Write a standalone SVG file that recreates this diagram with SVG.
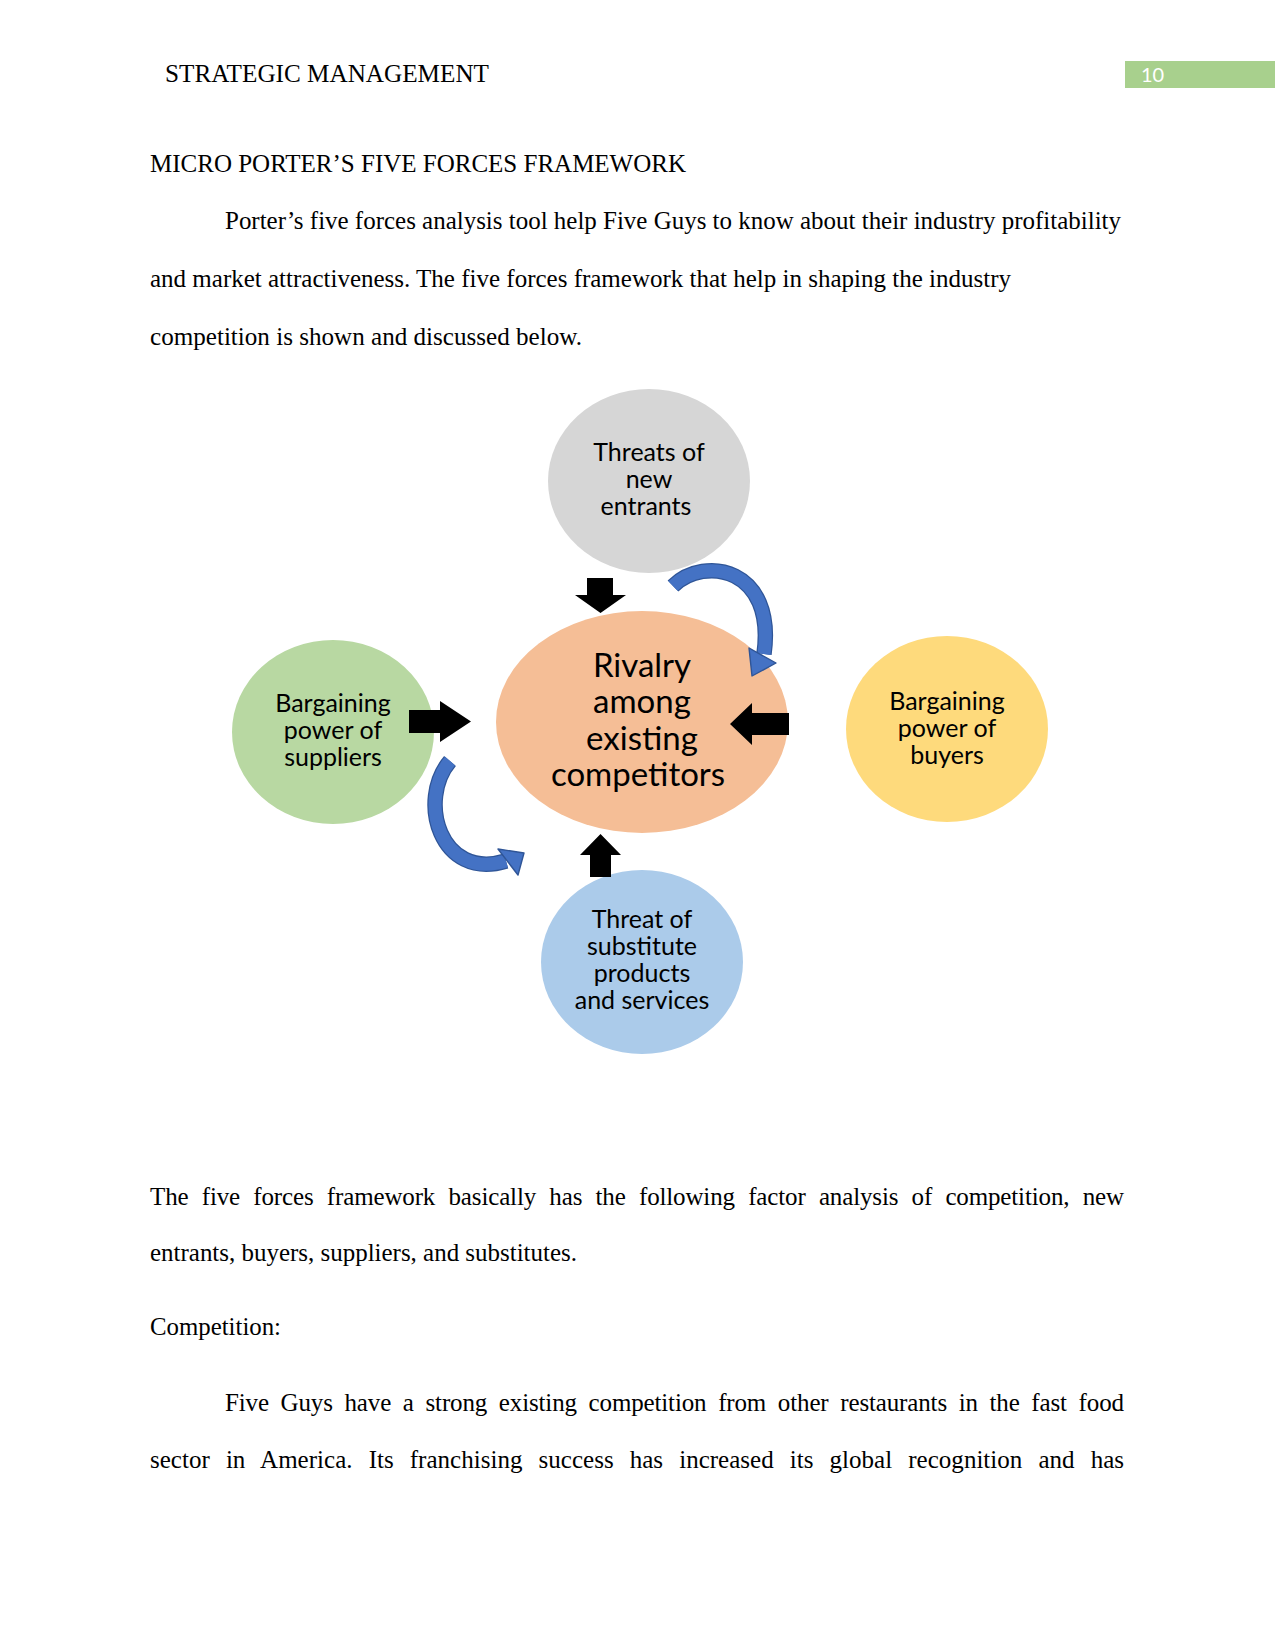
<svg xmlns="http://www.w3.org/2000/svg" width="1275" height="1650" viewBox="0 0 1275 1650">
<style>
.body{font-family:"Liberation Serif","Times New Roman",serif;font-size:25px;fill:#000}
.lbl{font-family:Lato,"Open Sans",sans-serif;font-size:25px;fill:#000;text-anchor:middle}
.big{font-family:Lato,"Open Sans",sans-serif;font-size:33px;fill:#000;text-anchor:middle}
.blk{fill:#000}
.cbody{fill:none;stroke:#4472C4;stroke-width:13}
.cedge{fill:none;stroke:#2F5597;stroke-width:15.5}
.chead{fill:#4472C4;stroke:#2F5597;stroke-width:1.4;stroke-linejoin:round}
</style>
<rect width="1275" height="1650" fill="#fff"/>
<g id="header">
<text class="body" x="165" y="82" textLength="324" lengthAdjust="spacingAndGlyphs">STRATEGIC MANAGEMENT</text>
<rect x="1125" y="61" width="150" height="27" fill="#A8D08D"/>
<text x="1141" y="82" font-family="Lato,sans-serif" font-size="20" fill="#fff">10</text>
</g>
<g id="text-top">
<text class="body" x="150" y="172" textLength="536" lengthAdjust="spacingAndGlyphs">MICRO PORTER’S FIVE FORCES FRAMEWORK</text>
<text class="body" x="225" y="229" textLength="896" lengthAdjust="spacingAndGlyphs">Porter’s five forces analysis tool help Five Guys to know about their industry profitability</text>
<text class="body" x="150" y="287" textLength="861" lengthAdjust="spacingAndGlyphs">and market attractiveness. The five forces framework that help in shaping the industry</text>
<text class="body" x="150" y="345" textLength="432" lengthAdjust="spacingAndGlyphs">competition is shown and discussed below.</text>
</g>
<g id="node-new-entrants">
<ellipse cx="649" cy="481" rx="101" ry="92" fill="#D6D6D6"/>
<text class="lbl" x="649" y="461">Threats of</text>
<text class="lbl" x="649" y="488">new</text>
<text class="lbl" x="646" y="515">entrants</text>
</g>
<g id="node-rivalry">
<ellipse cx="642" cy="722" rx="146" ry="111" fill="#F5BE96"/>
<text class="big" x="642" y="677">Rivalry</text>
<text class="big" x="642" y="713">among</text>
<text class="big" x="642" y="750">existing</text>
<text class="big" x="638" y="786">competitors</text>
</g>
<g id="node-suppliers">
<ellipse cx="333" cy="732" rx="101" ry="92" fill="#B8D8A2"/>
<text class="lbl" x="333" y="712">Bargaining</text>
<text class="lbl" x="333" y="739">power of</text>
<text class="lbl" x="333" y="766">suppliers</text>
</g>
<g id="node-buyers">
<ellipse cx="947" cy="729" rx="101" ry="93" fill="#FEDA7C"/>
<text class="lbl" x="947" y="710">Bargaining</text>
<text class="lbl" x="947" y="737">power of</text>
<text class="lbl" x="947" y="764">buyers</text>
</g>
<g id="node-substitutes">
<ellipse cx="642" cy="962" rx="101" ry="92" fill="#ABCBEA"/>
<text class="lbl" x="642" y="928">Threat of</text>
<text class="lbl" x="642" y="955">substitute</text>
<text class="lbl" x="642" y="982">products</text>
<text class="lbl" x="642" y="1009">and services</text>
</g>
<g id="connectors">
<polygon class="blk" points="587,578 613,578 613,595 626,595 600.5,613 575,595 587,595"/>
<polygon class="blk" points="590,877 611,877 611,855 621,855 600.5,834 580,855 590,855"/>
<polygon class="blk" points="409,710 440,710 440,701 471,721.5 440,742 440,733 409,733"/>
<polygon class="blk" points="789,713 752,713 752,703 730,724 752,745 752,735 789,735"/>
<path class="cedge" d="M673 586 C705 555 776 568 764 654"/>
<path class="cbody" d="M673 586 C705 555 776 568 764 654"/>
<polygon class="chead" points="749,648 776,663 752,676"/>
<path class="cedge" d="M450 761 C417 800 440 881 506 861"/>
<path class="cbody" d="M450 761 C417 800 440 881 506 861"/>
<polygon class="chead" points="498,849 524,853 518,875"/>
</g>
<g id="text-bottom">
<text class="body" x="150" y="1205" word-spacing="7.2" textLength="974" lengthAdjust="spacing">The five forces framework basically has the following factor analysis of competition, new</text>
<text class="body" x="150" y="1261" textLength="427" lengthAdjust="spacingAndGlyphs">entrants, buyers, suppliers, and substitutes.</text>
<text class="body" x="150" y="1335" textLength="131" lengthAdjust="spacingAndGlyphs">Competition:</text>
<text class="body" x="225" y="1411" word-spacing="5.6" textLength="899" lengthAdjust="spacing">Five Guys have a strong existing competition from other restaurants in the fast food</text>
<text class="body" x="150" y="1468" word-spacing="9.8" textLength="974" lengthAdjust="spacing">sector in America. Its franchising success has increased its global recognition and has</text>
</g>
</svg>
